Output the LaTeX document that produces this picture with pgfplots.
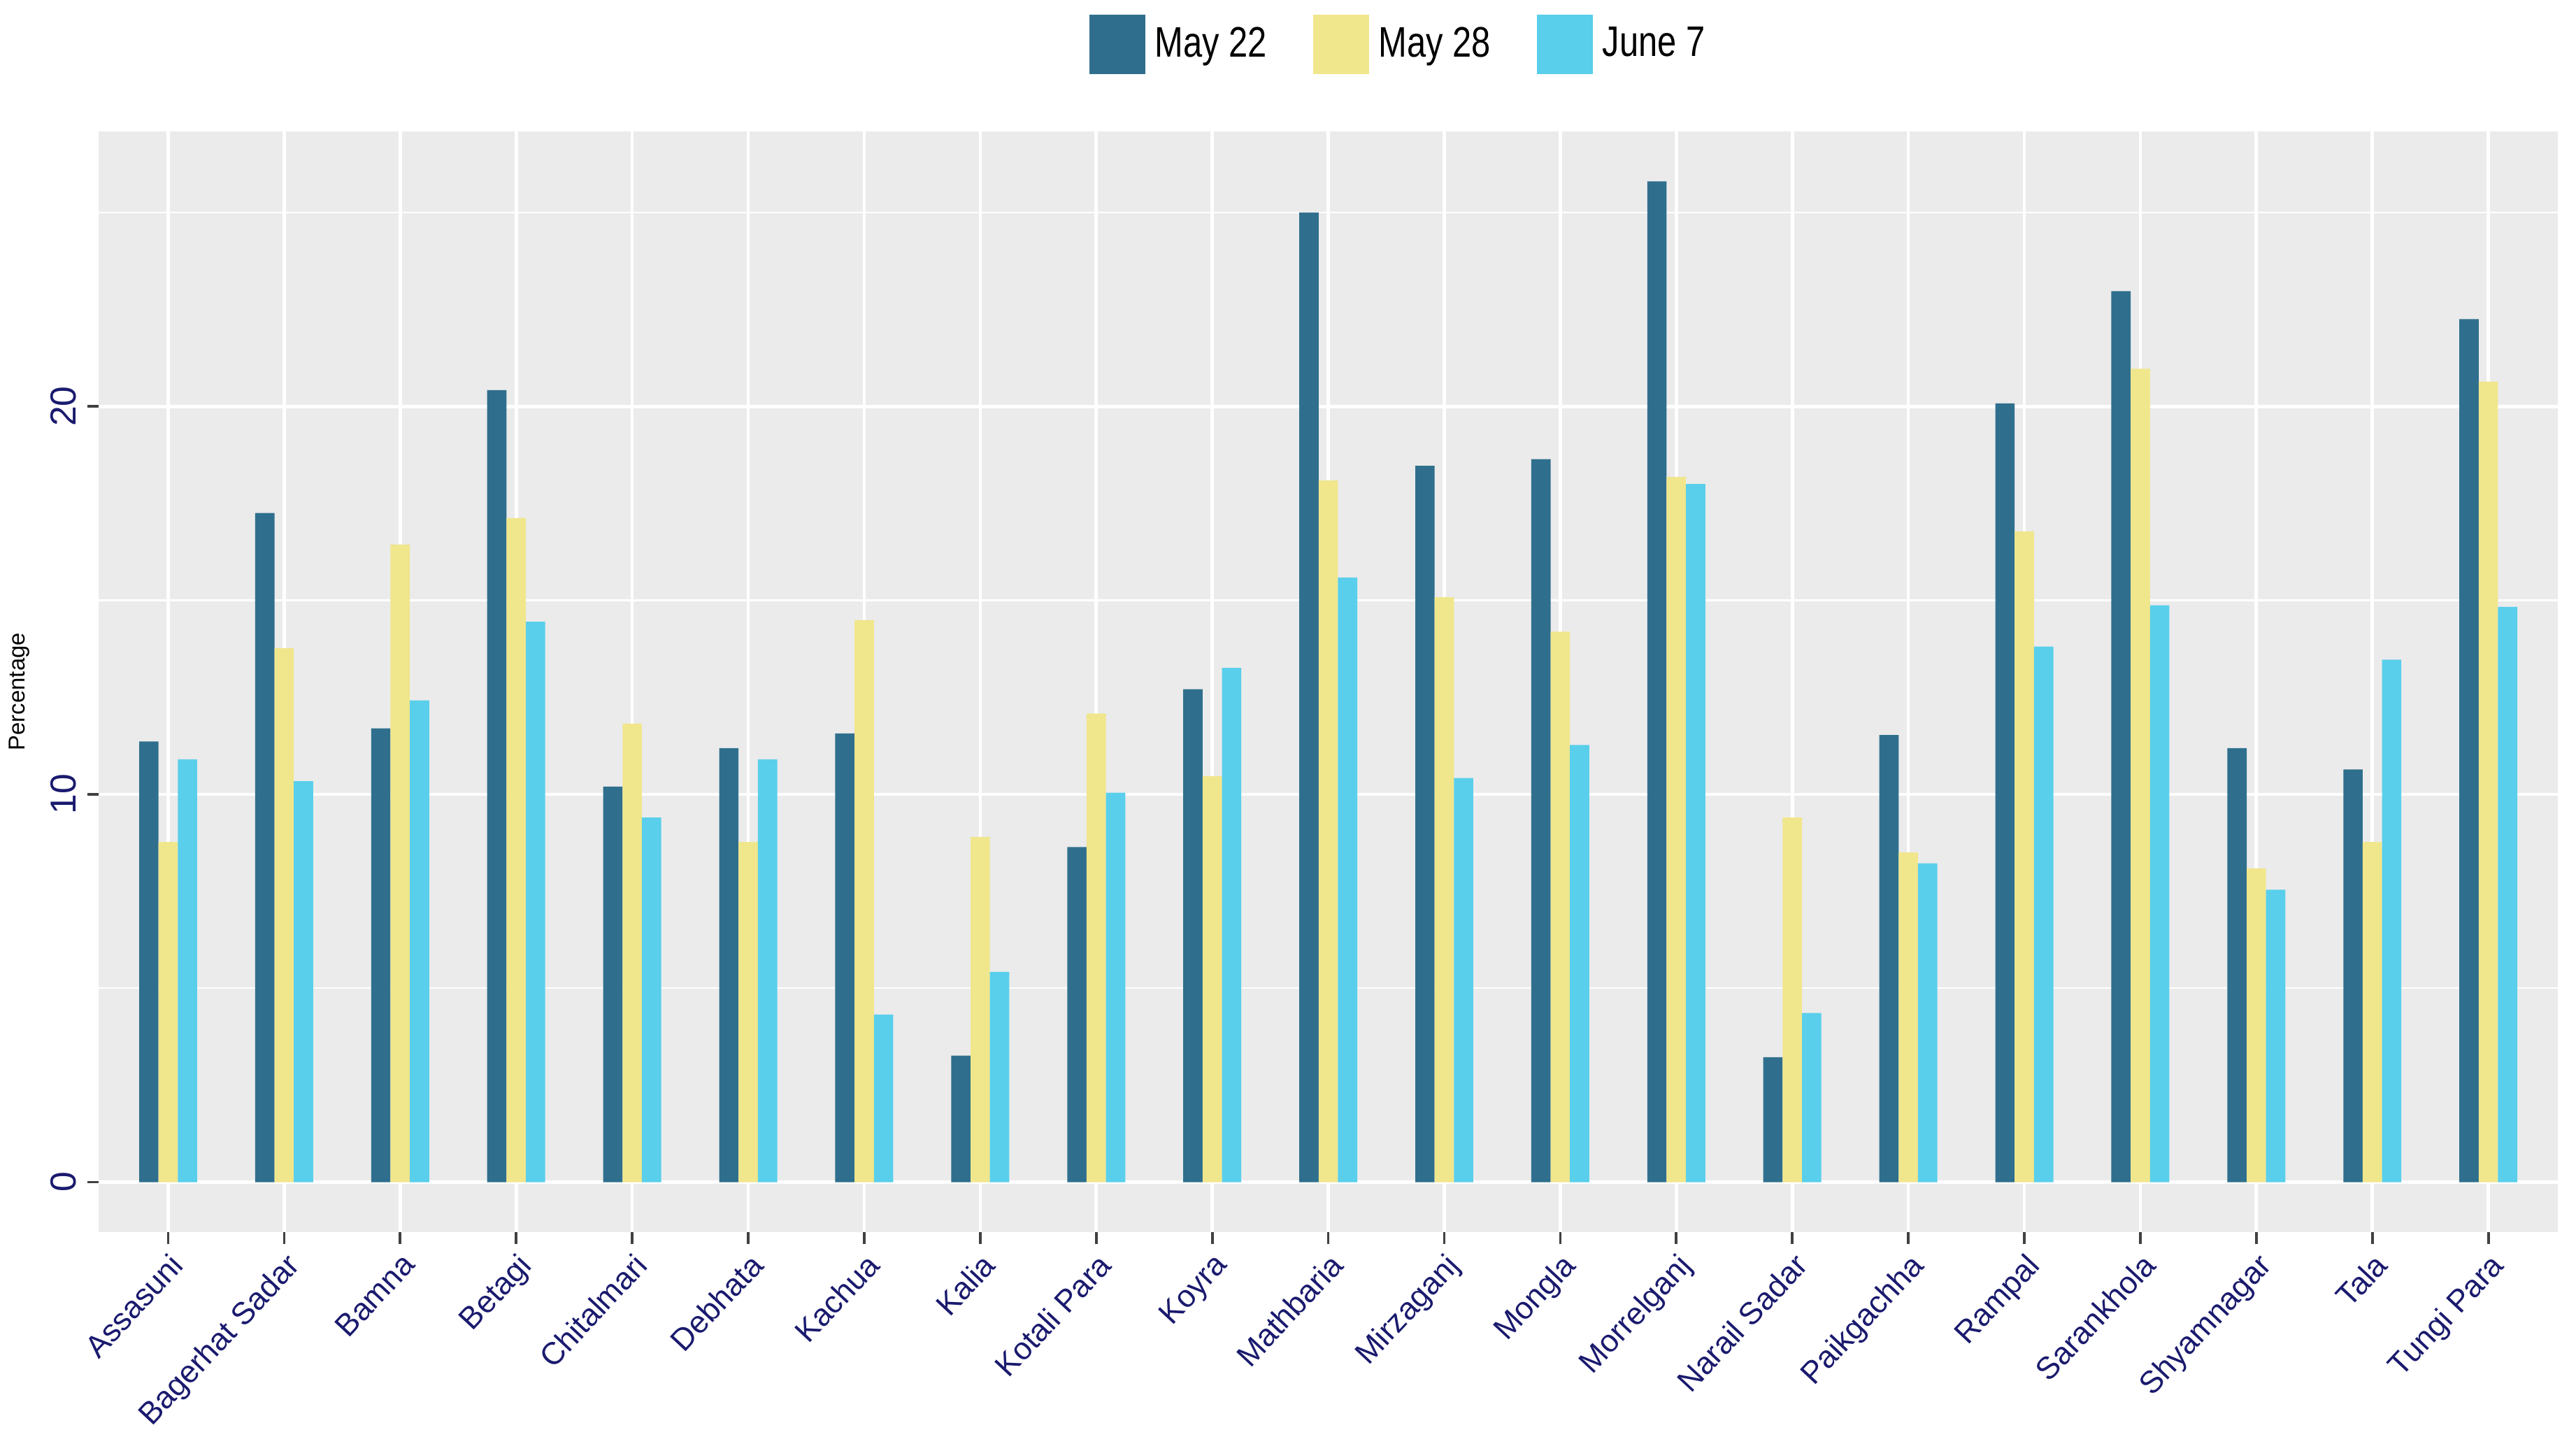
\documentclass[border=0pt]{standalone}
\usepackage{pgfplots}
\usepackage{pgfplotstable}
\usepackage{fontspec}
\pgfplotsset{compat=1.18}
\setmainfont{Liberation Sans}
\newfontfamily\legfont[FakeStretch=0.8]{Liberation Sans}

\definecolor{cdark}{HTML}{2F6F8D}
\definecolor{cyell}{HTML}{F0E68C}
\definecolor{ccyan}{HTML}{59CFEB}
\definecolor{ggbg}{HTML}{EBEBEB}
\definecolor{navy}{HTML}{1A1A6E}

\pgfplotstableread{
x may22 may28 june7
0  11.36  8.77 10.90
1  17.25 13.77 10.34
2  11.70 16.44 12.42
3  20.42 17.12 14.45
4  10.20 11.82  9.40
5  11.19  8.77 10.90
6  11.57 14.49  4.32
7   3.26  8.90  5.42
8   8.64 12.08 10.04
9  12.71 10.47 13.26
10 25.00 18.09 15.59
11 18.47 15.08 10.42
12 18.64 14.19 11.27
13 25.80 18.18 18.00
14  3.22  9.40  4.36
15 11.53  8.50  8.22
16 20.08 16.78 13.81
17 22.97 20.97 14.87
18 11.19  8.09  7.54
19 10.64  8.77 13.47
20 22.25 20.64 14.83
}\data

\begin{document}
\begin{tikzpicture}
\begin{axis}[
  scale only axis,
  width=748.5pt, height=335pt,
  xmin=-0.6, xmax=20.6,
  ymin=-1.29, ymax=27.09,
  ybar=0pt, bar width=0.1667,
  axis background/.style={fill=ggbg},
  axis line style={draw=none},
  tick pos=left,
  tick align=outside,
  major tick length=3.5pt,
  minor tick length=0pt,
  tick style={color=black!75, line width=0.8pt},
  /pgf/number format/assume math mode=true,
  xtick={0,...,20},
  xticklabels={Assasuni, Bagerhat Sadar, Bamna, Betagi, Chitalmari, Debhata, Kachua, Kalia, Kotali Para, Koyra, Mathbaria, Mirzaganj, Mongla, Morrelganj, Narail Sadar, Paikgachha, Rampal, Sarankhola, Shyamnagar, Tala, Tungi Para},
  x tick label style={rotate=47, anchor=north east, font=\fontsize{9.5}{11}\selectfont, color=navy, inner sep=1.5pt},
  ytick={0,10,20},
  minor ytick={5,15,25},
  y tick label style={rotate=90, anchor=south, font=\fontsize{11}{13}\selectfont, color=navy, inner sep=3pt},
  ylabel={Percentage},
  ylabel style={font=\fontsize{7}{8}\selectfont, at={(ticklabel cs:0.5)}, xshift=-3pt},
  xmajorgrids, ymajorgrids, yminorgrids,
  major grid style={white, line width=1pt},
  minor grid style={white, line width=0.5pt},
  legend columns=3,
  legend style={at={(0.530,1)}, anchor=center, yshift=26.5pt, draw=none, fill=none,
    font=\legfont\fontsize{13}{15}\selectfont,
    nodes={inner xsep=3pt},
    /tikz/every even column/.append style={column sep=11pt}},
  legend image code/.code={\fill[#1] (0pt,-9pt) rectangle (17pt,9pt);},
]
\addplot[fill=cdark, draw=none] table[x=x, y=may22] {\data};
\addplot[fill=cyell, draw=none] table[x=x, y=may28] {\data};
\addplot[fill=ccyan, draw=none] table[x=x, y=june7] {\data};
\legend{May 22, May 28, June 7}
\end{axis}
\pgfresetboundingbox
\path ([shift={(-30pt,-60pt)}]current axis.south west) rectangle ([shift={(5.5pt,40pt)}]current axis.north east);
\end{tikzpicture}
\end{document}
